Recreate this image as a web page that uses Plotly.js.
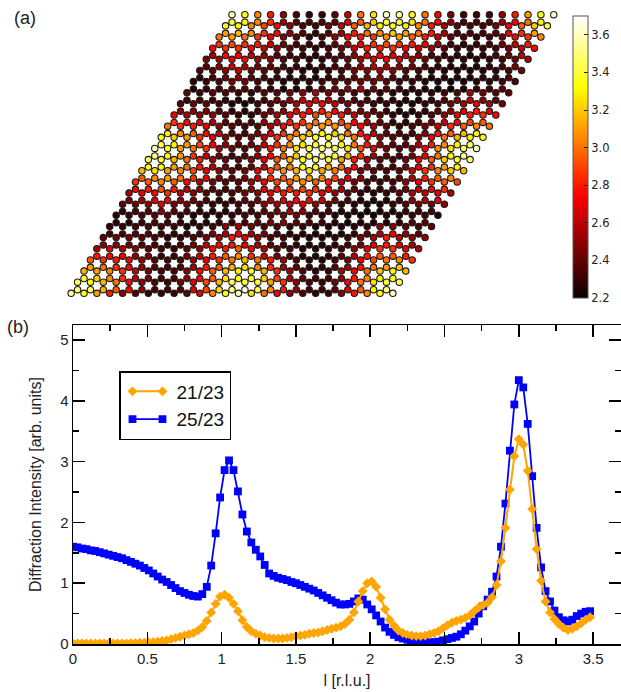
<!DOCTYPE html>
<html><head><meta charset="utf-8">
<script src="https://cdn.plot.ly/plotly-3.0.1.min.js"></script>
<style>html,body{margin:0;padding:0;background:#fff}#c{width:621px;height:692px}</style>
</head><body><div id="c"></div>
<script>
// Honeycomb site values, row by row from top to bottom.
const siteRowsA = [
[3.6,3.35,3.05,2.8,2.5,2.34,2.3,2.3,2.38,2.62,3.0,3.25,3.6,3.55,3.3,3.0,2.75,2.44,2.34,2.3,2.34,2.5,2.8,3.1,3.35,3.6],
[3.4,3.3,3.05,2.9,2.75,2.5,2.34,2.34,2.44,2.62,2.95,3.15,3.3,3.35,3.3,3.05,2.8,2.56,2.38,2.34,2.34,2.44,2.7,2.95,3.2,3.4],
[3.0,3.1,3.0,2.85,2.7,2.5,2.38,2.3,2.34,2.5,2.75,2.8,2.85,3.05,3.1,2.95,2.8,2.62,2.38,2.34,2.3,2.34,2.44,2.75,2.85,3.05],
[2.75,2.85,2.85,2.75,2.62,2.5,2.38,2.34,2.3,2.34,2.44,2.62,2.8,2.8,2.85,2.75,2.62,2.56,2.38,2.3,2.3,2.3,2.34,2.44,2.62,2.75],
[2.44,2.56,2.7,2.75,2.56,2.5,2.38,2.34,2.3,2.3,2.34,2.44,2.56,2.7,2.75,2.7,2.56,2.44,2.34,2.3,2.3,2.26,2.3,2.34,2.44,2.56],
[2.34,2.38,2.5,2.62,2.44,2.38,2.34,2.3,2.26,2.26,2.3,2.34,2.44,2.5,2.56,2.5,2.38,2.34,2.3,2.26,2.26,2.26,2.26,2.3,2.34,2.44],
[2.26,2.3,2.34,2.44,2.44,2.34,2.3,2.26,2.26,2.3,2.34,2.38,2.38,2.44,2.44,2.38,2.34,2.3,2.26,2.26,2.22,2.26,2.26,2.3,2.34,2.34],
[2.38,2.34,2.38,2.38,2.3,2.3,2.38,2.38,2.44,2.5,2.56,2.44,2.38,2.34,2.3,2.3,2.26,2.26,2.26,2.3,2.34,2.38,2.56,2.44,2.38,2.38],
[2.38,2.44,2.38,2.34,2.26,2.22,2.34,2.38,2.44,2.56,2.7,2.75,2.62,2.44,2.38,2.34,2.3,2.26,2.26,2.3,2.34,2.44,2.56,2.7,2.56,2.44],
[2.7,2.56,2.5,2.5,2.38,2.3,2.3,2.44,2.56,2.7,2.8,2.9,2.95,2.8,2.62,2.5,2.38,2.3,2.26,2.3,2.38,2.5,2.7,2.8,2.85,2.75],
[3.0,2.85,2.8,2.7,2.5,2.38,2.34,2.38,2.56,2.75,2.85,3.0,3.1,3.1,2.95,2.75,2.56,2.38,2.3,2.34,2.44,2.62,2.85,2.95,3.05,3.0],
[3.35,3.2,3.1,2.85,2.7,2.5,2.38,2.44,2.62,2.85,3.05,3.2,3.35,3.35,3.25,3.0,2.75,2.5,2.38,2.34,2.5,2.75,3.0,3.15,3.3,3.35],
[3.6,3.35,3.1,3.0,2.85,2.56,2.44,2.38,2.5,2.8,3.0,3.25,3.4,3.5,3.45,3.25,2.95,2.7,2.44,2.38,2.44,2.75,3.05,3.25,3.45,3.6],
[3.45,3.4,3.15,3.0,2.8,2.56,2.44,2.38,2.5,2.7,2.95,3.15,3.35,3.45,3.35,3.1,2.8,2.56,2.38,2.34,2.44,2.7,2.95,3.2,3.4,3.5],
[3.15,3.25,3.1,3.05,2.9,2.7,2.5,2.38,2.44,2.7,2.9,3.05,3.15,3.25,3.1,3.0,2.7,2.44,2.38,2.34,2.38,2.62,2.85,3.05,3.2,3.15],
[2.85,2.95,3.05,2.95,2.75,2.56,2.44,2.38,2.38,2.56,2.75,2.9,2.95,3.05,2.95,2.8,2.62,2.44,2.34,2.3,2.34,2.5,2.7,2.85,2.95,2.9],
[2.56,2.7,2.75,2.85,2.62,2.5,2.38,2.34,2.34,2.44,2.5,2.7,2.8,2.8,2.85,2.7,2.5,2.38,2.3,2.26,2.3,2.38,2.56,2.62,2.7,2.56],
[2.38,2.44,2.5,2.7,2.44,2.44,2.34,2.3,2.3,2.34,2.38,2.5,2.56,2.62,2.7,2.5,2.38,2.3,2.26,2.26,2.26,2.3,2.38,2.44,2.44,2.5],
[2.26,2.3,2.34,2.38,2.38,2.3,2.26,2.26,2.26,2.3,2.34,2.34,2.38,2.44,2.44,2.34,2.3,2.26,2.22,2.22,2.22,2.26,2.26,2.3,2.34,2.26],
[2.3,2.3,2.34,2.34,2.34,2.3,2.26,2.3,2.34,2.5,2.56,2.44,2.34,2.34,2.3,2.3,2.26,2.26,2.26,2.26,2.3,2.5,2.5,2.38,2.34,2.38],
[2.38,2.44,2.44,2.38,2.34,2.3,2.3,2.38,2.44,2.56,2.8,2.7,2.5,2.34,2.34,2.26,2.26,2.26,2.26,2.34,2.44,2.56,2.8,2.62,2.5,2.5],
[2.56,2.7,2.56,2.5,2.38,2.34,2.3,2.38,2.5,2.75,2.8,2.95,2.75,2.56,2.38,2.34,2.26,2.26,2.3,2.34,2.5,2.7,2.85,2.85,2.7,2.56],
[2.95,2.85,2.8,2.7,2.5,2.38,2.34,2.34,2.5,2.7,2.85,3.0,3.15,3.0,2.8,2.56,2.34,2.26,2.26,2.3,2.44,2.7,2.9,3.0,3.05,2.85],
[3.15,3.1,3.05,2.85,2.62,2.44,2.34,2.34,2.5,2.75,2.95,3.15,3.3,3.35,3.15,2.85,2.56,2.38,2.3,2.3,2.56,2.75,3.0,3.2,3.3,3.15],
[3.45,3.3,3.15,3.0,2.75,2.5,2.34,2.34,2.44,2.7,2.9,3.15,3.45,3.4,3.4,3.1,2.85,2.5,2.34,2.3,2.44,2.75,3.0,3.25,3.4,3.45],
[3.55,3.35,3.1,2.8,2.5,2.34,2.3,2.3,2.3,2.38,2.7,3.05,3.35,3.6,3.25,3.0,2.75,2.5,2.34,2.3,2.3,2.5,2.8,3.05,3.35,3.6]
];
const siteRowsB = [
[3.4,3.3,3.05,2.85,2.56,2.38,2.34,2.34,2.38,2.7,2.95,3.2,3.4,3.4,3.25,3.0,2.75,2.5,2.34,2.34,2.34,2.5,2.75,3.0,3.3],
[3.1,3.15,3.05,2.85,2.75,2.5,2.38,2.3,2.38,2.56,2.8,3.0,3.05,3.2,3.1,3.0,2.8,2.56,2.34,2.34,2.34,2.38,2.7,2.85,3.1],
[2.85,2.9,2.85,2.8,2.62,2.44,2.34,2.3,2.3,2.38,2.56,2.7,2.85,2.9,2.85,2.8,2.7,2.5,2.34,2.3,2.3,2.34,2.44,2.62,2.8],
[2.56,2.75,2.75,2.62,2.5,2.38,2.34,2.3,2.3,2.34,2.38,2.5,2.7,2.75,2.7,2.62,2.5,2.38,2.3,2.3,2.26,2.3,2.34,2.44,2.62],
[2.38,2.5,2.62,2.56,2.44,2.38,2.34,2.3,2.26,2.3,2.34,2.38,2.5,2.62,2.56,2.5,2.44,2.34,2.3,2.26,2.26,2.26,2.3,2.34,2.44],
[2.3,2.34,2.44,2.5,2.38,2.34,2.3,2.26,2.26,2.26,2.3,2.34,2.38,2.44,2.5,2.38,2.34,2.3,2.26,2.26,2.26,2.26,2.3,2.3,2.38],
[2.26,2.3,2.34,2.38,2.38,2.34,2.3,2.26,2.26,2.3,2.34,2.44,2.5,2.56,2.44,2.38,2.34,2.3,2.26,2.22,2.22,2.26,2.3,2.34,2.38],
[2.34,2.34,2.34,2.3,2.26,2.3,2.34,2.44,2.5,2.62,2.7,2.56,2.44,2.38,2.34,2.3,2.26,2.26,2.26,2.3,2.38,2.5,2.62,2.5,2.38],
[2.5,2.5,2.44,2.38,2.3,2.26,2.34,2.44,2.5,2.7,2.75,2.8,2.75,2.56,2.44,2.38,2.3,2.26,2.26,2.3,2.38,2.5,2.7,2.8,2.7],
[2.85,2.75,2.7,2.56,2.38,2.34,2.34,2.5,2.62,2.8,2.85,3.0,3.05,2.9,2.75,2.56,2.38,2.3,2.3,2.34,2.44,2.62,2.75,2.9,2.95],
[3.3,3.05,2.95,2.75,2.62,2.38,2.34,2.44,2.7,2.85,3.0,3.15,3.3,3.2,3.0,2.8,2.62,2.38,2.34,2.34,2.5,2.8,2.95,3.15,3.3],
[3.45,3.3,3.1,2.9,2.75,2.5,2.38,2.44,2.62,2.85,3.05,3.25,3.4,3.45,3.3,3.0,2.8,2.5,2.38,2.38,2.56,2.8,3.05,3.3,3.45],
[3.5,3.35,3.1,2.85,2.62,2.44,2.34,2.38,2.5,2.75,2.95,3.2,3.4,3.5,3.4,3.15,2.85,2.56,2.38,2.34,2.44,2.7,3.0,3.3,3.55],
[3.35,3.35,3.1,3.0,2.8,2.62,2.44,2.34,2.44,2.62,2.95,3.05,3.35,3.35,3.15,3.0,2.75,2.5,2.38,2.34,2.44,2.7,2.85,3.1,3.3],
[2.95,3.05,3.1,3.0,2.85,2.7,2.44,2.38,2.44,2.62,2.85,2.95,3.1,3.1,3.05,2.9,2.7,2.5,2.34,2.34,2.38,2.56,2.8,2.95,3.05],
[2.75,2.8,2.95,2.8,2.62,2.5,2.38,2.34,2.38,2.5,2.7,2.8,2.85,2.9,2.85,2.7,2.56,2.38,2.3,2.3,2.34,2.44,2.62,2.75,2.85],
[2.44,2.56,2.7,2.75,2.5,2.44,2.34,2.3,2.3,2.38,2.44,2.56,2.7,2.75,2.75,2.62,2.44,2.34,2.26,2.26,2.26,2.34,2.5,2.56,2.7],
[2.3,2.34,2.38,2.5,2.38,2.34,2.3,2.26,2.26,2.3,2.34,2.38,2.44,2.56,2.5,2.38,2.34,2.26,2.26,2.22,2.26,2.26,2.3,2.34,2.34],
[2.26,2.26,2.3,2.34,2.34,2.3,2.26,2.26,2.3,2.3,2.34,2.38,2.44,2.5,2.38,2.34,2.3,2.26,2.22,2.26,2.26,2.26,2.3,2.38,2.38],
[2.34,2.34,2.38,2.38,2.34,2.3,2.3,2.34,2.44,2.56,2.7,2.56,2.44,2.34,2.3,2.26,2.26,2.26,2.26,2.3,2.38,2.56,2.7,2.5,2.38],
[2.5,2.5,2.44,2.38,2.34,2.3,2.34,2.44,2.62,2.75,2.8,2.7,2.56,2.38,2.34,2.3,2.26,2.26,2.3,2.34,2.44,2.7,2.8,2.7,2.56],
[2.8,2.75,2.7,2.5,2.44,2.3,2.3,2.44,2.62,2.8,2.95,3.05,2.85,2.62,2.44,2.34,2.26,2.26,2.3,2.38,2.56,2.8,2.95,2.95,2.8],
[3.1,3.0,2.85,2.75,2.5,2.38,2.34,2.38,2.56,2.8,2.95,3.15,3.25,3.05,2.85,2.56,2.38,2.3,2.3,2.38,2.56,2.8,3.0,3.1,3.2],
[3.4,3.2,3.05,2.85,2.62,2.44,2.34,2.34,2.5,2.75,2.95,3.25,3.35,3.4,3.2,2.9,2.56,2.38,2.34,2.34,2.5,2.8,3.05,3.3,3.35],
[3.5,3.45,3.15,2.95,2.75,2.5,2.34,2.34,2.38,2.7,2.9,3.25,3.5,3.65,3.45,3.05,2.8,2.5,2.34,2.3,2.38,2.7,2.95,3.3,3.5]
];

// Panel (b) series
const lValues = [0,0.03,0.06,0.09,0.12,0.15,0.18,0.21,0.24,0.27,
0.3,0.33,0.36,0.39,0.42,0.45,0.48,0.51,0.54,0.57,
0.6,0.63,0.66,0.69,0.72,0.75,0.78,0.81,0.84,0.87,
0.9,0.93,0.96,0.99,1.02,1.05,1.08,1.11,1.14,1.17,
1.2,1.23,1.26,1.29,1.32,1.35,1.38,1.41,1.44,1.47,
1.5,1.53,1.56,1.59,1.62,1.65,1.68,1.71,1.74,1.77,
1.8,1.83,1.86,1.89,1.92,1.95,1.98,2.01,2.04,2.07,
2.1,2.13,2.16,2.19,2.22,2.25,2.28,2.31,2.34,2.37,
2.4,2.43,2.46,2.49,2.52,2.55,2.58,2.61,2.64,2.67,
2.7,2.73,2.76,2.79,2.82,2.85,2.88,2.91,2.94,2.97,
3,3.03,3.06,3.09,3.12,3.15,3.18,3.21,3.24,3.27,
3.3,3.33,3.36,3.39,3.42,3.45,3.48];
const ratio2523 = [1.6,1.59,1.57,1.56,1.54,1.53,1.51,1.49,1.47,1.45,
1.43,1.41,1.38,1.35,1.32,1.29,1.25,1.21,1.16,1.11,
1.06,1.02,0.97,0.92,0.87,0.84,0.81,0.79,0.78,0.82,
0.94,1.29,1.82,2.41,2.86,3.02,2.86,2.51,2.13,1.85,
1.67,1.55,1.44,1.3,1.16,1.12,1.09,1.07,1.05,1.02,
1,0.97,0.94,0.91,0.88,0.84,0.8,0.76,0.72,0.68,
0.65,0.65,0.66,0.7,0.75,0.73,0.65,0.57,0.47,0.37,
0.27,0.2,0.15,0.11,0.09,0.07,0.06,0.05,0.04,0.03,
0.03,0.03,0.04,0.06,0.08,0.1,0.12,0.16,0.22,0.29,
0.37,0.5,0.62,0.73,0.86,1.11,1.6,2.31,3.18,3.94,
4.34,4.22,3.62,2.76,1.91,1.26,0.87,0.7,0.55,0.44,
0.39,0.37,0.4,0.46,0.5,0.53,0.54];
const ratio2123 = [0.01,0.01,0.01,0.01,0.01,0.01,0.01,0.01,0.01,0.01,
0.01,0.01,0.01,0.015,0.015,0.02,0.02,0.03,0.03,0.04,
0.05,0.06,0.08,0.1,0.12,0.14,0.16,0.18,0.22,0.28,
0.38,0.52,0.66,0.78,0.81,0.76,0.66,0.54,0.39,0.28,
0.21,0.17,0.14,0.11,0.1,0.09,0.09,0.09,0.1,0.11,
0.13,0.14,0.15,0.17,0.18,0.19,0.21,0.23,0.25,0.27,
0.29,0.33,0.4,0.52,0.7,0.87,1,1.03,0.94,0.76,
0.57,0.4,0.3,0.22,0.18,0.15,0.14,0.13,0.13,0.14,
0.16,0.18,0.21,0.26,0.31,0.35,0.38,0.4,0.43,0.47,
0.54,0.6,0.64,0.68,0.77,0.97,1.36,1.91,2.54,3.09,
3.37,3.28,2.85,2.22,1.56,1.04,0.7,0.52,0.41,0.33,
0.27,0.23,0.25,0.29,0.34,0.4,0.44];
const seriesNames = ['21/23','25/23'];
const panelLabels = ['(a)','(b)'];

// Colour levels of the "hot" map over 2.2 to 3.7
const hotScale = [[0,'#0a0000'],[0.365,'#ff0000'],[0.746,'#ffff00'],[1,'#ffffff']];

const W = 621, H = 692;
const HELV = 'Helvetica, "Liberation Sans", Arial, sans-serif';

// Lattice sites: indices to honeycomb positions in lattice constants
const sx = [], sy = [], sv = [];
const rowH = Math.sqrt(3)/2, bond = 1/Math.sqrt(3);
siteRowsA.forEach((row,k)=>row.forEach((v,i)=>{sx.push(i-k/2); sy.push(-k*rowH); sv.push(v);}));
siteRowsB.forEach((row,k)=>row.forEach((v,i)=>{sx.push(i-k/2); sy.push(-k*rowH-bond); sv.push(v);}));

const latticeX = 232, latticeY = 14.7, latticeA = 12.87;
const dom = [60,565], domY = [3,307];

const traces = [
  {type:'scatter',mode:'markers',x:sx,y:sy,xaxis:'x2',yaxis:'y2',showlegend:false,hoverinfo:'skip',
   cliponaxis:false,
   marker:{size:6.4,color:sv,cmin:2.2,cmax:3.7,colorscale:hotScale,line:{color:'#1c1c1c',width:1.1},
     colorbar:{x:573/W,xanchor:'left',xpad:0,y:1-16/H,yanchor:'top',ypad:0,lenmode:'pixels',len:282,
       thicknessmode:'pixels',thickness:15,outlinecolor:'#555',outlinewidth:1,
       tickmode:'array',tickvals:[2.2,2.4,2.6,2.8,3.0,3.2,3.4,3.6],ticktext:['2.2','2.4','2.6','2.8','3.0','3.2','3.4','3.6'],
       ticks:'inside',ticklen:4,tickwidth:1,tickcolor:'#222',
       tickfont:{family:'"DejaVu Sans"',size:11.5,color:'#222'}}}},
  {type:'scatter',mode:'lines+markers',name:seriesNames[1],x:lValues,y:ratio2523,hoverinfo:'skip',
   line:{color:'#0000ff',width:1.8},marker:{symbol:'square',size:7.8,color:'#0000ff'}},
  {type:'scatter',mode:'lines+markers',name:seriesNames[0],x:lValues,y:ratio2123,hoverinfo:'skip',
   line:{color:'#ffa500',width:2},marker:{symbol:'diamond',size:7.6,color:'#ffa500'}}
];

const axBase = {ticks:'inside',mirror:'allticks',showline:true,linecolor:'#000',linewidth:1.5,
  tickcolor:'#000',tickwidth:1.5,ticklen:12,showgrid:false,zeroline:false,
  tickfont:{family:HELV,size:15,color:'#222'}};

const layout = {
  width:W,height:H,margin:{l:0,r:0,t:0,b:0},paper_bgcolor:'#fff',plot_bgcolor:'rgba(0,0,0,0)',
  xaxis:Object.assign({},axBase,{domain:[73/W,1],range:[0,(W-73)/148.6],dtick:0.5,tick0:0,
    minor:{dtick:0.25,ticks:'inside',ticklen:6,tickwidth:1.5,tickcolor:'#000',showgrid:false},
    title:{text:'l [r.l.u.]',font:{family:HELV,size:16,color:'#222'},standoff:9}}),
  yaxis:Object.assign({},axBase,{domain:[1-644/H,1-325/H],range:[0,(644-325)/60.8],dtick:1,tick0:0,
    minor:{dtick:0.5,ticks:'inside',ticklen:6,tickwidth:1.5,tickcolor:'#000',showgrid:false},
    title:{text:'Diffraction Intensity [arb. units]',font:{family:HELV,size:16,color:'#222'},standoff:14}}),
  xaxis2:{domain:[dom[0]/W,dom[1]/W],range:[(dom[0]-latticeX)/latticeA,(dom[1]-latticeX)/latticeA],
    visible:false,anchor:'y2'},
  yaxis2:{domain:[1-domY[1]/H,1-domY[0]/H],range:[(latticeY-domY[1])/latticeA,(latticeY-domY[0])/latticeA],
    visible:false,anchor:'x2'},
  legend:{x:119/W,xanchor:'left',y:1-371/H,yanchor:'top',bgcolor:'#fff',bordercolor:'#000',borderwidth:1.5,
    traceorder:'reversed',itemwidth:46,font:{family:HELV,size:19,color:'#111'}},
  annotations:[
    {xref:'paper',yref:'paper',x:12/W,y:1-18/H,xanchor:'left',yanchor:'middle',showarrow:false,text:panelLabels[0],font:{family:HELV,size:18,color:'#222'}},
    {xref:'paper',yref:'paper',x:5/W,y:1-327/H,xanchor:'left',yanchor:'middle',showarrow:false,text:panelLabels[1],font:{family:HELV,size:18,color:'#222'}}
  ]
};
Plotly.newPlot('c',traces,layout,{displayModeBar:false,staticPlot:true}).then(gd=>{
  // The reference's legend key is a short line with a marker at each end.
  gd.querySelectorAll('.legend .traces').forEach(item=>{
    const line = item.querySelector('.legendlines path');
    const pt = item.querySelector('.legendpoints path.scatterpts');
    if(!line||!pt) return;
    const b = line.getBBox();
    const x0 = b.x+7, len = 30;
    line.setAttribute('d','M'+x0+',0h'+len);
    const twin = pt.cloneNode(true);
    pt.parentNode.appendChild(twin);
    pt.setAttribute('transform','translate('+x0+',0)');
    twin.setAttribute('transform','translate('+(x0+len)+',0)');
  });
});
</script></body></html>
